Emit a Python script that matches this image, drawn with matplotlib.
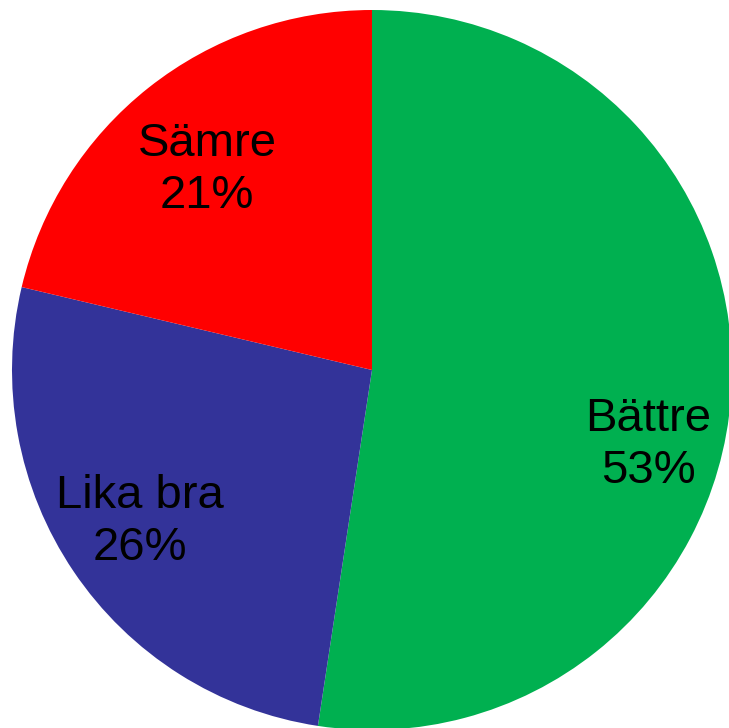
import matplotlib.pyplot as plt

categories = ['Bättre', 'Lika bra', 'Sämre']
# slice sizes as measured from the wedge angles; printed percentages as shown
sizes = [52.4, 26.3, 21.3]
pct_labels = [53, 26, 21]
colors = ['#00B050', '#333399', '#FF0000']

plt.rcParams['font.family'] = ['Liberation Sans', 'DejaVu Sans']

fig = plt.figure(figsize=(7.29, 7.28), dpi=100)
ax = fig.add_axes([0, 0, 1, 1])

labels = [f'{c}\n{p}%' for c, p in zip(categories, pct_labels)]
wedges, texts = ax.pie(sizes, labels=labels, colors=colors, startangle=90,
                       counterclock=False, labeldistance=0.77,
                       textprops={'fontsize': 34, 'ha': 'center', 'va': 'center',
                                  'linespacing': 1.25})

# label spots as placed in the original
texts[0].set_position((0.767, -0.208))
texts[1].set_position((-0.644, -0.422))
texts[2].set_position((-0.458, 0.556))

ax.set_aspect('auto')
ax.set_xlim(-372 / 360, (729 - 372) / 360)
ax.set_ylim(-(728 - 370) / 360, 370 / 360)
ax.axis('off')

fig.savefig('out.png', dpi=100, facecolor='white')
